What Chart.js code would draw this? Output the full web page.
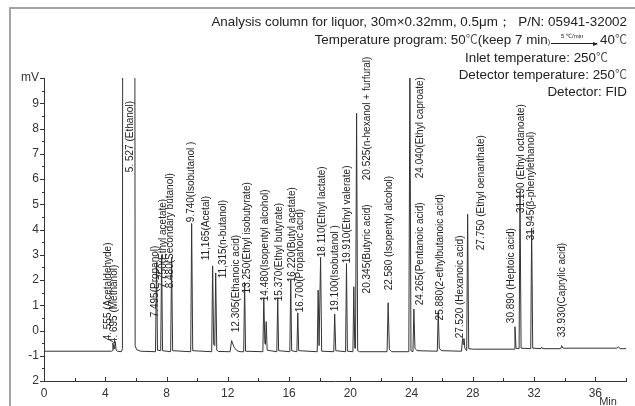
<!DOCTYPE html>
<html>
<head>
<meta charset="utf-8">
<script src="https://cdn.jsdelivr.net/npm/chart.js@4.4.1/dist/chart.umd.min.js"></script>
<style>
body { margin: 0; background: #fff; }
#wrap { position: relative; width: 635px; height: 406px; overflow: hidden; font-family: "Liberation Sans", Arial, sans-serif; }
#frame { position: absolute; left: 9px; top: 7px; width: 700px; height: 500px; border-left: 2px solid #a3a3a3; border-top: 2px solid #a3a3a3; }
canvas { position: absolute; left: 0; top: 0; }
.hd { position: absolute; right: 8px; font-size: 13.4px; line-height: 16px; color: #222; white-space: pre; }
.deg { font-family: "Noto Sans CJK SC", "DejaVu Sans", sans-serif; font-size: 12px; color: #555; }
.sm { font-size: 7px; }
.arr { display: inline-block; position: relative; width: 46px; height: 9px; border-bottom: 1px solid #222; margin: 0 3px 0 1px; }
.arr::after { content: ''; position: absolute; right: -1px; bottom: -3px; border-left: 5px solid #222; border-top: 2.5px solid transparent; border-bottom: 2.5px solid transparent; }
.rate { position: absolute; left: 10px; top: -1px; font-size: 6px; line-height: 7px; }
</style>
</head>
<body>
<div id="wrap">
  <div id="frame"></div>
  <canvas id="chrom" width="635" height="406"></canvas>
  <div class="hd" style="top:14px">Analysis column for liquor, 30m×0.32mm, 0.5μm；  P/N: 05941-32002</div>
  <div class="hd" style="top:31px">Temperature program: 50<span class="deg">℃</span>(keep 7 min<span class="sm">)</span><span class="arr"><span class="rate">5 ℃/min</span></span>40<span class="deg">℃</span></div>
  <div class="hd" style="top:49px;right:27px">Inlet temperature: 250<span class="deg">℃</span></div>
  <div class="hd" style="top:66px">Detector temperature: 250<span class="deg">℃</span></div>
  <div class="hd" style="top:84px">Detector: FID</div>
</div>
<script>
// axis ticks
const xTicks = [0, 4, 8, 12, 16, 20, 24, 28, 32, 36];
const yTicks = [-2, -1, 0, 1, 2, 3, 4, 5, 6, 7, 8, 9, 10];
const yTickText = ['2', '-1', '0', '1', '2', '3', '4', '5', '6', '7', '8', '9', 'mV'];

// detector trace (min, mV)
const traceMin = [0, 4.40, 4.46, 4.50, 4.56, 4.60, 4.65, 4.71, 4.80, 5.05, 5.12, 5.53, 5.95, 6.05, 6.30,
  7.28, 7.35, 7.41, 7.62, 7.68, 7.74, 8.27, 8.33, 8.40, 9.58, 9.64, 9.71,
  10.95, 11.01, 11.08, 11.15, 11.21, 11.28, 11.40, 12.15, 12.25, 12.40, 12.60, 12.80,
  13.04, 13.10, 13.16, 14.29, 14.35, 14.42, 14.46, 14.51, 14.57, 15.20, 15.26, 15.32,
  16.05, 16.11, 16.17, 16.51, 16.57, 16.63, 17.84, 17.90, 17.96, 18.00, 18.06, 18.13,
  18.92, 18.98, 19.05, 19.69, 19.75, 19.81, 20.17, 20.23, 20.29, 20.34, 20.41, 20.48, 20.60,
  22.40, 22.47, 22.55, 22.70, 23.82, 23.89, 23.96, 24.09, 24.15, 24.22, 24.35,
  25.68, 25.74, 25.81, 25.95, 27.26, 27.33, 27.37, 27.42, 27.48, 27.60, 27.66, 27.73, 28.00,
  30.69, 30.75, 30.82, 31.02, 31.08, 31.15, 31.78, 31.84, 31.91, 32.45, 32.50, 32.56,
  33.74, 33.80, 33.88, 37.40, 37.50, 37.62, 38];
const traceMv = [-0.82, -0.82, -0.80, -0.50, -0.74, -0.72, -0.44, -0.78, -0.82, -0.84, -0.72, 300, -0.60, -0.76, -0.82,
  -0.84, 2.70, -0.78, -0.80, 3.00, -0.80, -0.84, 2.90, -0.80, -0.84, 4.24, -0.80,
  -0.84, 2.56, -0.55, -0.60, 2.28, -0.78, -0.83, -0.84, -0.40, -0.65, -0.80, -0.84,
  -0.84, 1.90, -0.82, -0.84, 1.30, -0.50, -0.55, 0.35, -0.78, -0.84, 1.30, -0.80,
  -0.84, 2.00, -0.80, -0.84, 0.70, -0.80, -0.84, 1.60, -0.60, -0.60, 2.90, -0.82,
  -0.84, 0.65, -0.80, -0.84, 2.65, -0.82, -0.84, 1.73, -0.70, -0.70, 8.60, -0.80, -0.84,
  -0.84, 1.10, -0.75, -0.84, -0.84, 10.4, -0.80, -0.84, 0.85, -0.70, -0.80,
  -0.82, 0.75, -0.70, -0.80, -0.82, -0.32, -0.55, -0.32, -0.70, -0.80, 4.60, -0.72, -0.74,
  -0.74, 0.15, -0.70, -0.72, 5.50, -0.70, -0.72, 4.05, -0.70, -0.72, -0.66, -0.72,
  -0.72, -0.60, -0.70, -0.70, -0.65, -0.72, -0.72];

// peak labels and where each one starts (min, mV)
const peakText = ['4. 555 (Acetaldehyde)', '4. 695 (Methanol)', '5. 527 (Ethanol)', '7.495(Propanol)',
  '7.750(Ethyl acetate)', '8.480(Secondary butanol)', '9.740(Isobutanol )', '11,165(Acetal)',
  '11,315(n-butanol)', '12.305(Ethanoic acid)', '13.250(Ethyl isobutyrate)', '14.480(Isopentyl alcohol)',
  '15.370(Ethyl butyrate)', '16.220(Butyl acetate)', '16.700(Propanoic acid)', '18.110(Ethyl lactate)',
  '19.100(Isobutanol )', '19.910(Ethyl valerate)', '20.345(Butyric acid)', '20.525(n-hexanol + furfural)',
  '22.580 (Isopentyl alcohol)', '24.040(Ethyl caproate)', '24.265(Pentanoic acid)', '25.880(2-ethylbutanoic acid)',
  '27.520 (Hexanoic acid)', '27.750 (Ethyl oenanthate)', '30.890 (Heptoic acid)', '31.190 (Ethyl octanoate)',
  '31.945(β-phenylethanol)', '33.930(Caprylic acid)'];
const peakTextMin = [4.22, 4.57, 5.61, 7.24, 7.78, 8.22, 9.63, 10.58, 11.68, 12.55, 13.25, 14.45,
  15.37, 16.20, 16.74, 18.16, 19.03, 19.80, 21.10, 21.10, 22.52, 24.55, 24.59, 25.85,
  27.21, 28.52, 30.54, 31.13, 31.83, 33.86];
const peakTextMv = [-0.39, -0.50, 6.27, 0.52, 1.67, 1.67, 4.29, 2.78, 2.07, -0.07, 1.47, 1.16,
  1.16, 1.91, 0.72, 2.90, 0.76, 2.66, 1.47, 5.95, 1.59, 6.03, 1.00, 0.40,
  -0.31, 3.18, 0.29, 4.65, 3.57, -0.27];

const peakLabels = {
    id: 'peakLabels',
    afterDatasetsDraw(chart) {
        const { ctx, scales: { x, y } } = chart;
        ctx.save();
        ctx.font = '10px "Liberation Sans", Arial, sans-serif';
        ctx.fillStyle = '#222';
        ctx.textAlign = 'left';
        ctx.textBaseline = 'middle';
        peakText.forEach((t, i) => {
            ctx.save();
            ctx.translate(x.getPixelForValue(peakTextMin[i]), y.getPixelForValue(peakTextMv[i]));
            ctx.rotate(-Math.PI / 2);
            ctx.fillText(t, 0, 0);
            ctx.restore();
        });
        ctx.restore();
    }
};

const tickMarks = {
    id: 'tickMarks',
    afterDraw(chart) {
        const { ctx, chartArea: a, scales: { x, y } } = chart;
        ctx.save();
        ctx.strokeStyle = '#333';
        ctx.lineWidth = 1;
        ctx.beginPath();
        for (let v = 0; v <= 38; v += 2) {
            const px = Math.round(x.getPixelForValue(v)) + 0.5;
            ctx.moveTo(px, a.bottom);
            ctx.lineTo(px, a.bottom - (v % 4 === 0 ? 4 : 3));
        }
        for (let v = -2; v <= 10; v += 0.5) {
            const py = Math.round(y.getPixelForValue(v)) + 0.5;
            ctx.moveTo(a.left, py);
            ctx.lineTo(a.left - (v % 1 === 0 ? 4 : 2), py);
        }
        ctx.stroke();
        ctx.fillStyle = '#333';
        ctx.font = '11px "Liberation Sans", Arial, sans-serif';
        ctx.textAlign = 'center';
        ctx.textBaseline = 'middle';
        ctx.fillText('Min', a.right - 18, a.bottom + 21);
        ctx.restore();
    }
};

new Chart(document.getElementById('chrom'), {
    type: 'line',
    data: {
        datasets: [{
            data: traceMin.map((t, i) => ({ x: t, y: traceMv[i] })),
            borderColor: '#333',
            borderWidth: 1,
            pointRadius: 0,
            tension: 0
        }]
    },
    options: {
        responsive: false,
        animation: false,
        layout: { padding: { top: 78, right: 9, left: 0, bottom: 0 } },
        plugins: { legend: { display: false }, tooltip: { enabled: false } },
        scales: {
            x: {
                type: 'linear',
                min: 0,
                max: 38,
                afterBuildTicks: s => { s.ticks = xTicks.map(v => ({ value: v })); },
                afterFit: s => { s.height = 25; },
                grid: { display: false, drawTicks: false },
                border: { display: true, color: '#333', width: 1 },
                ticks: { color: '#333', font: { size: 12, family: '"Liberation Sans", Arial' }, padding: 5, maxRotation: 0 }
            },
            y: {
                min: -2,
                max: 10,
                afterBuildTicks: s => { s.ticks = yTicks.map(v => ({ value: v })); },
                afterFit: s => { s.width = 44; },
                grid: { display: false, drawTicks: false },
                border: { display: true, color: '#333', width: 1 },
                ticks: {
                    color: '#333',
                    font: { size: 12, family: '"Liberation Sans", Arial' },
                    padding: 5,
                    callback: v => yTickText[yTicks.indexOf(v)]
                }
            }
        }
    },
    plugins: [peakLabels, tickMarks]
});
</script>
</body>
</html>
